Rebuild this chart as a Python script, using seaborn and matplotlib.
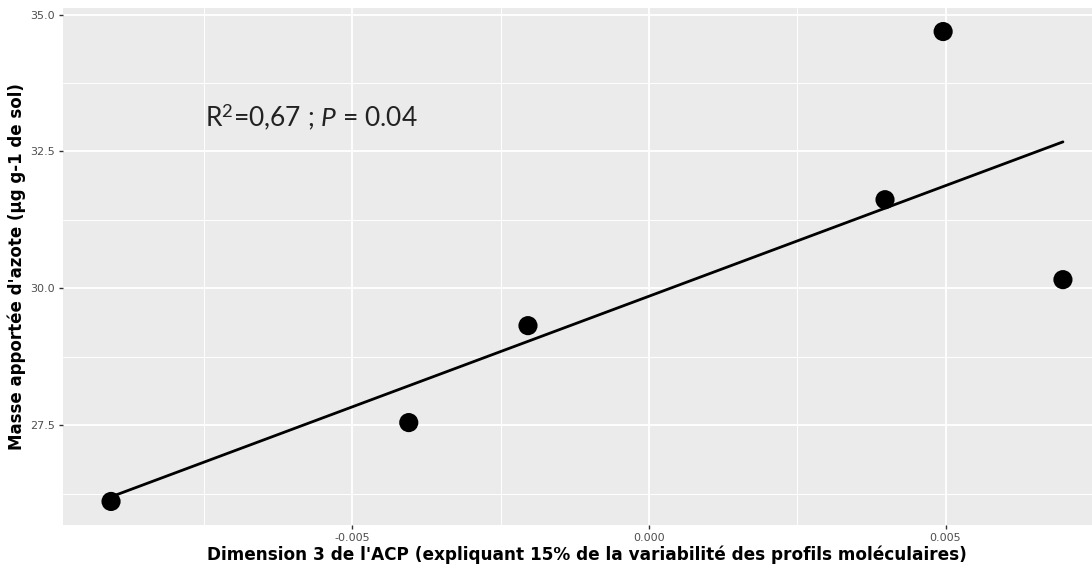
import matplotlib
matplotlib.use("Agg")
import matplotlib.pyplot as plt
import seaborn as sns
import numpy as np
import pandas as pd
from matplotlib.ticker import FixedLocator

# Data
dim3 = [-0.00907, -0.00405, -0.00204, 0.00398, 0.00496, 0.00698]
azote = [26.11, 27.55, 29.32, 31.62, 34.69, 30.16]
xticks = [-0.005, 0.000, 0.005]
xticklabels = ["-0.005", "0.000", "0.005"]
yticks = [27.5, 30.0, 32.5, 35.0]
yticklabels = ["27.5", "30.0", "32.5", "35.0"]

df = pd.DataFrame({"dim3": dim3, "azote": azote})

sns.set_style("darkgrid", rc={
    "axes.facecolor": "#EBEBEB",
    "grid.color": "white",
    "axes.edgecolor": "#EBEBEB",
    "xtick.bottom": True,
    "ytick.left": True,
})
plt.rcParams["font.family"] = ["DejaVu Sans"]
plt.rcParams["mathtext.fontset"] = "custom"
plt.rcParams["mathtext.rm"] = "Lato"
plt.rcParams["mathtext.it"] = "Lato:italic"

fig = plt.figure(figsize=(10.92, 5.72), dpi=100)
ax = fig.add_axes([63 / 1092, 47 / 572, 1 - 63 / 1092, (525 - 8) / 572])

sns.regplot(data=df, x="dim3", y="azote", ci=None, ax=ax, truncate=True,
            scatter_kws={"s": 190, "color": "black", "alpha": 1.0,
                         "edgecolor": "none", "zorder": 3},
            line_kws={"color": "black", "linewidth": 2.0, "zorder": 2})

ax.set_xlim(-0.00988, 0.00747)
ax.set_ylim(25.68, 35.12)
ax.set_xticks(xticks)
ax.set_xticklabels(xticklabels)
ax.set_yticks(yticks)
ax.set_yticklabels(yticklabels)
ax.xaxis.set_minor_locator(FixedLocator([-0.0075, -0.0025, 0.0025, 0.0075]))
ax.yaxis.set_minor_locator(FixedLocator([26.25, 28.75, 31.25, 33.75]))
ax.grid(which="major", color="white", linewidth=1.3)
ax.grid(which="minor", color="white", linewidth=0.7)
ax.tick_params(which="major", length=3, width=1, color="#333333",
               labelsize=8, labelcolor="#4D4D4D", pad=3)
ax.tick_params(which="minor", length=0)
for s in ax.spines.values():
    s.set_visible(False)

ax.set_xlabel("Dimension 3 de l'ACP (expliquant 15% de la variabilité des profils moléculaires)",
              fontsize=12.2, fontweight="bold", color="black")
ax.xaxis.set_label_coords((587 - 63) / (1092 - 63), -21 / 517)
ax.set_ylabel("Masse apportée d'azote (µg g-1 de sol)",
              fontsize=12, fontweight="bold", labelpad=3, color="black")

ax.text(-0.00749, 33.14, r"R$^{2}$=0,67 ; $\mathit{P}$ = 0.04", fontsize=19,
        family="Lato", ha="left", va="center", color="#222222")

fig.savefig("out.png", dpi=100)
